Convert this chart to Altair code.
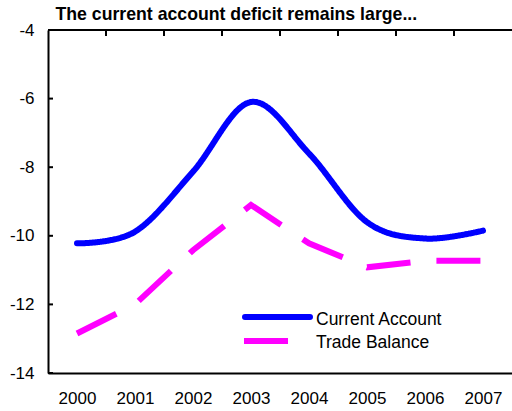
import altair as alt
import pandas as pd

# Annual figures, % of GDP
years = [2000, 2001, 2002, 2003, 2004, 2005, 2006, 2007]
current_account = [-10.22, -9.88, -8.13, -6.10, -7.60, -9.60, -10.08, -9.85]
trade_balance = [-12.85, -12.00, -10.42, -9.10, -10.22, -10.92, -10.73, -10.73]

series_names = ["Current Account", "Trade Balance"]
series_colors = ["#0000FF", "#FF00FF"]
series_dashes = [[1, 0], [44, 26]]

y_ticks = [-4, -6, -8, -10, -12, -14]
year_bounds = [2000.5, 2001.5, 2002.5, 2003.5, 2004.5, 2005.5, 2006.5]

FONT = "Liberation Sans"
X_DOMAIN = [1999.5, 2007.5]
Y_DOMAIN = [-14, -4]

ca_df = pd.DataFrame({"year": years, "value": current_account, "series": series_names[0]})
tb_df = pd.DataFrame({"year": years, "value": trade_balance, "series": series_names[1]})

x_enc = alt.X(
    "year:Q",
    scale=alt.Scale(domain=X_DOMAIN, nice=False, zero=False),
    axis=alt.Axis(
        values=years, format="d", ticks=False, tickSize=0, grid=False, title=None,
        domainColor="black", domainWidth=2, labelFontSize=17, labelFont=FONT,
        labelColor="black", labelPadding=17,
    ),
)
y_enc = alt.Y(
    "value:Q",
    scale=alt.Scale(domain=Y_DOMAIN, nice=False, zero=False),
    axis=alt.Axis(
        values=y_ticks, ticks=False, tickSize=0, grid=False, title=None,
        labelExpr="'' + datum.value",
        domainColor="black", domainWidth=2, labelFontSize=17, labelFont=FONT,
        labelColor="black", labelPadding=14,
    ),
)
color_scale = alt.Scale(domain=series_names, range=series_colors)
dash_scale = alt.Scale(domain=series_names, range=series_dashes)
color_enc = alt.Color("series:N", scale=color_scale, legend=None)
dash_enc = alt.StrokeDash("series:N", scale=dash_scale, legend=None)

ca_line = alt.Chart(ca_df).mark_line(
    strokeWidth=6, interpolate="cardinal", strokeCap="round"
).encode(x=x_enc, y=y_enc, color=color_enc, strokeDash=dash_enc)

tb_line = alt.Chart(tb_df).mark_line(
    strokeWidth=6, interpolate="linear", strokeCap="butt"
).encode(x=x_enc, y=y_enc, color=color_enc, strokeDash=dash_enc)

# top frame line
top_rule = alt.Chart(pd.DataFrame({"v": [Y_DOMAIN[1]]})).mark_rule(
    color="black", strokeWidth=2
).encode(y="v:Q", x=alt.datum(X_DOMAIN[0]), x2=alt.datum(X_DOMAIN[1]))

# small ticks hanging from the top frame between years
top_ticks = alt.Chart(pd.DataFrame({"b": year_bounds})).mark_rule(
    color="black", strokeWidth=2
).encode(x="b:Q", y=alt.value(0), y2=alt.value(6))

# inward ticks on the value axis
left_ticks = alt.Chart(pd.DataFrame({"t": y_ticks})).mark_rule(
    color="black", strokeWidth=2
).encode(y="t:Q", x=alt.value(0), x2=alt.value(5))

# legend: a key line and a label per series, inside the plot
key_ca = alt.Chart(pd.DataFrame({"series": [series_names[0]]})).mark_rule(
    strokeWidth=6, strokeCap="round"
).encode(x=alt.value(197), x2=alt.value(262), y=alt.value(287),
         color=color_enc, strokeDash=dash_enc)
key_tb = alt.Chart(pd.DataFrame({"series": [series_names[1]]})).mark_rule(
    strokeWidth=6, strokeCap="butt"
).encode(x=alt.value(196), x2=alt.value(264), y=alt.value(311),
         color=color_enc, strokeDash=dash_enc)
label_ca = alt.Chart(pd.DataFrame({"series": [series_names[0]]})).mark_text(
    align="left", baseline="middle", fontSize=17.5, font=FONT, color="black"
).encode(x=alt.value(268), y=alt.value(290), text="series:N")
label_tb = alt.Chart(pd.DataFrame({"series": [series_names[1]]})).mark_text(
    align="left", baseline="middle", fontSize=17.5, font=FONT, color="black"
).encode(x=alt.value(268), y=alt.value(313), text="series:N")

chart = alt.layer(
    top_rule, top_ticks, left_ticks, tb_line, ca_line,
    key_ca, key_tb, label_ca, label_tb,
).properties(
    width=464,
    height=343,
    autosize=alt.AutoSizeParams(type="none"),
    padding={"left": 48, "top": 30, "right": 0, "bottom": 38},
    title=alt.TitleParams(
        "The current account deficit remains large...",
        anchor="start", dx=46, dy=13, offset=10, fontSize=17.7, fontWeight="bold",
        font=FONT, color="black",
    ),
).configure_view(stroke=None).configure(background="white")

chart.save("out.html", embed_options={"renderer": "svg", "actions": False})
